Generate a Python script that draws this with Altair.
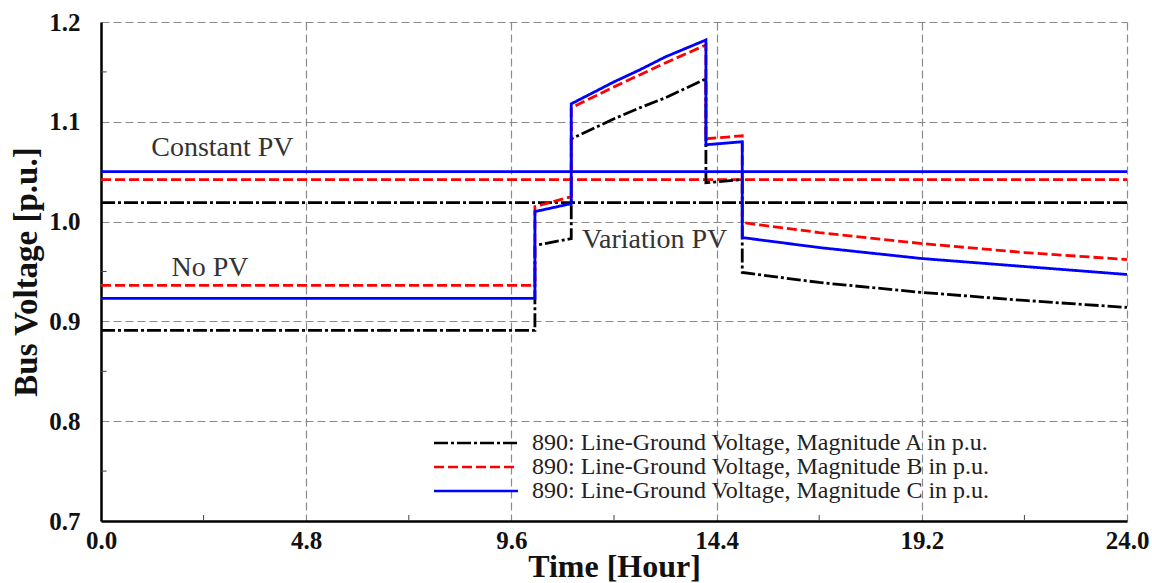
import altair as alt
import pandas as pd

# ---------------- data ----------------
series_names = [
    "890: Line-Ground Voltage, Magnitude A in p.u.",
    "890: Line-Ground Voltage, Magnitude B in p.u.",
    "890: Line-Ground Voltage, Magnitude C in p.u.",
]

const_time = [0.0, 24.0]
const_A = [1.019, 1.019]
const_B = [1.042, 1.042]
const_C = [1.050, 1.050]

var_time = [0.0, 10.15, 10.15, 11.0, 11.0, 12.0, 12.6, 13.2, 14.15, 14.15, 15.0, 15.0, 16.8, 19.2, 21.6, 24.0]
var_A = [0.891, 0.891, 0.976, 0.983, 1.083, 1.103, 1.114, 1.124, 1.143, 1.039, 1.042, 0.949, 0.939, 0.929, 0.921, 0.914]
var_B = [0.936, 0.936, 1.015, 1.025, 1.114, 1.135, 1.147, 1.159, 1.177, 1.083, 1.086, 0.999, 0.989, 0.978, 0.969, 0.962]
var_C = [0.923, 0.923, 1.010, 1.018, 1.118, 1.140, 1.152, 1.165, 1.182, 1.077, 1.080, 0.984, 0.974, 0.963, 0.955, 0.947]

x_ticks = [0.0, 4.8, 9.6, 14.4, 19.2, 24.0]
y_ticks = [0.7, 0.8, 0.9, 1.0, 1.1, 1.2]
x_minor = [2.4, 7.2, 12.0, 16.8, 21.6]
y_minor = [0.75, 0.85, 0.95, 1.05, 1.15]

ann_text = ["Constant PV", "No PV", "Variation PV"]
ann_x = [2.84, 2.55, 12.95]
ann_y = [1.074, 0.954, 0.982]

# ---------------- build table ----------------
rows = []
for case, t, vals in [
    ("const", const_time, [const_A, const_B, const_C]),
    ("var", var_time, [var_A, var_B, var_C]),
]:
    for s, v in zip(series_names, vals):
        for i, (tt, vv) in enumerate(zip(t, v)):
            rows.append({"case": case, "series": s, "t": tt, "v": vv, "idx": i})
df = pd.DataFrame(rows)

SERIF = "Liberation Serif"

xscale = alt.Scale(domain=[0, 24], nice=False, zero=False)
yscale = alt.Scale(domain=[0.7, 1.2], nice=False, zero=False)

# long horizontal line symbol: 8 units wide, drawn at size 441 -> 84 px long, 21 px row box
legend = alt.Legend(
    title=None, orient="none", legendX=363, legendY=409,
    symbolType="M-4,0H4", symbolSize=441, symbolStrokeWidth=2.6,
    labelFont=SERIF, labelFontSize=24, labelColor="#222222",
    labelLimit=800, labelOffset=44, rowPadding=0, padding=0,
)

grid_kw = dict(grid=True, gridColor="#8a8a8a", gridDash=[8, 4], gridWidth=1.2,
               domainColor="#000", domainWidth=2.5, ticks=False, labelFlush=False)

lines = alt.Chart(df).mark_line(strokeWidth=2.8).encode(
    x=alt.X("t:Q", scale=xscale,
            axis=alt.Axis(values=x_ticks, format=".1f", title="Time [Hour]",
                          labelFont=SERIF, labelFontSize=25, labelFontWeight="bold",
                          labelColor="#111", labelPadding=7,
                          titleFont=SERIF, titleFontSize=32, titleFontWeight="bold",
                          titleColor="#111", titlePadding=-2, **grid_kw)),
    y=alt.Y("v:Q", scale=yscale,
            axis=alt.Axis(values=y_ticks, format=".1f", title="Bus Voltage [p.u.]",
                          labelFont=SERIF, labelFontSize=25, labelFontWeight="bold",
                          labelColor="#111", labelPadding=21,
                          titleFont=SERIF, titleFontSize=33, titleFontWeight="bold",
                          titleColor="#111", titlePadding=5, **grid_kw)),
    color=alt.Color("series:N",
                    scale=alt.Scale(domain=series_names, range=["#000000", "#ff0000", "#0000ff"]),
                    legend=legend),
    strokeDash=alt.StrokeDash("series:N",
                              scale=alt.Scale(domain=series_names,
                                              range=[[14, 3, 3, 3], [10, 4], [1, 0]]),
                              legend=legend),
    detail="case:N",
    order="idx:Q",
)

minor_x_df = pd.DataFrame({"t": x_minor, "y0": [0.7] * len(x_minor), "y1": [0.706] * len(x_minor)})
minor_y_df = pd.DataFrame({"v": y_minor, "x0": [0.0] * len(y_minor), "x1": [0.13] * len(y_minor)})

minor_x = alt.Chart(minor_x_df).mark_rule(color="#444", strokeWidth=1).encode(
    x=alt.X("t:Q", scale=xscale), y=alt.Y("y0:Q", scale=yscale), y2="y1:Q")
minor_y = alt.Chart(minor_y_df).mark_rule(color="#444", strokeWidth=1).encode(
    y=alt.Y("v:Q", scale=yscale), x=alt.X("x0:Q", scale=xscale), x2="x1:Q")

ann_df = pd.DataFrame({"text": ann_text, "t": ann_x, "v": ann_y})
ann = alt.Chart(ann_df).mark_text(font=SERIF, fontSize=28, color="#333333",
                                   align="center", baseline="middle").encode(
    x=alt.X("t:Q", scale=xscale), y=alt.Y("v:Q", scale=yscale), text="text:N")

chart = alt.layer(minor_x, minor_y, lines, ann).properties(
    width=1026, height=499,
    padding={"left": 101, "top": 22, "right": 25, "bottom": 62},
    autosize=alt.AutoSizeParams(type="none"),
    background="white",
).configure_view(stroke=None)

chart.save("out.html", embed_options={"renderer": "svg", "actions": False})
